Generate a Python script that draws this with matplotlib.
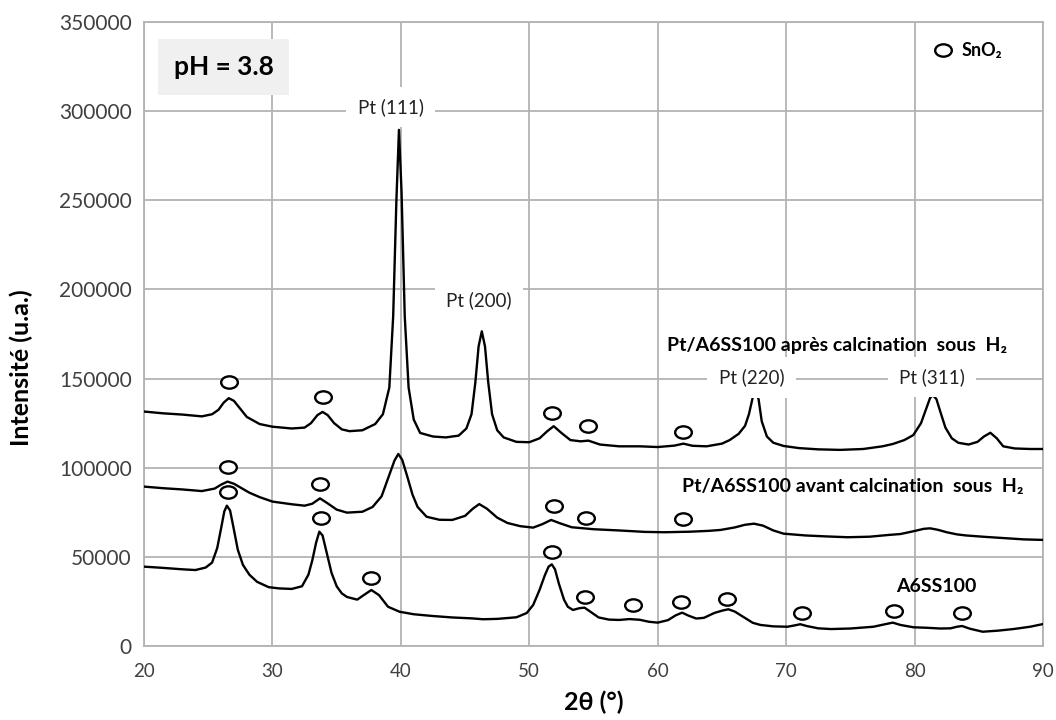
import matplotlib
matplotlib.use("Agg")
import matplotlib.pyplot as plt
import matplotlib.path as mpath
from matplotlib.transforms import Affine2D

plt.rcParams['font.family'] = ['Lato', 'DejaVu Sans']

# ---------------- data ----------------
top_x = [20.0, 21.5, 23.0, 24.5, 25.3, 25.8, 26.2, 26.6, 27.0, 27.5, 28.0, 29.0, 30.0, 31.5, 32.5,
         33.0, 33.5, 33.9, 34.3, 34.8, 35.4, 36.0, 37.0, 38.0, 38.6, 39.1, 39.4, 39.65, 39.85, 40.05,
         40.3, 40.6, 41.0, 41.5, 42.5, 43.5, 44.5, 45.1, 45.5, 45.8, 46.05, 46.3, 46.55, 46.8, 47.1,
         47.5, 48.0, 49.0, 50.0, 50.8, 51.4, 51.9, 52.5, 53.2, 54.0, 54.6, 55.5, 57.0, 58.6, 60.0,
         61.3, 62.0, 62.7, 63.8, 65.0, 65.6, 66.3, 66.8, 67.1, 67.4, 67.6, 67.85, 68.1, 68.5, 69.0,
         69.8, 71.0, 72.5, 74.2, 76.0, 77.5, 78.3, 79.2, 79.9, 80.5, 80.9, 81.2, 81.4, 81.7, 82.0,
         82.4, 82.9, 83.4, 84.2, 84.9, 85.4, 85.9, 86.4, 86.9, 87.8, 89.0, 90.0]
top_y = [131500, 130500, 129800, 128800, 130000, 132500, 136500, 139000, 137500, 133000, 128500,
         124500, 123000, 122000, 122500, 125000, 129500, 131300, 129500, 125000, 121500, 120500,
         121000, 124500, 130000, 145000, 185000, 250000, 289500, 255000, 185000, 145000, 127000,
         119500, 117500, 117000, 118000, 122000, 130000, 148000, 168000, 176500, 168000, 148000,
         130000, 121000, 117000, 114500, 114300, 116500, 120500, 123300, 119500, 115500, 114800,
         115200, 113000, 112000, 112000, 111600, 112400, 113500, 112300, 112000, 113500, 115500,
         119000, 123500, 130000, 139500, 143500, 138500, 126000, 117500, 114000, 112200, 111000,
         110300, 110000, 110500, 112000, 113300, 115500, 118300, 125000, 133000, 139000, 140800,
         138500, 131500, 122500, 116500, 114000, 113000, 114500, 117500, 119600, 116500, 112000,
         110800, 110500, 110500]

mid_x = [20.0, 21.5, 23.0, 24.5, 25.5, 26.0, 26.5, 27.0, 27.6, 28.2, 29.0, 30.0, 31.5, 32.5, 33.1,
         33.7, 34.3, 35.0, 35.8, 37.0, 37.8, 38.5, 39.1, 39.5, 39.8, 40.1, 40.5, 40.9, 41.3, 42.0,
         43.0, 44.0, 45.0, 45.6, 46.1, 46.7, 47.5, 48.3, 49.3, 50.3, 51.0, 51.7, 52.4, 53.3, 55.0,
         57.0, 59.0, 60.5, 62.5, 64.0, 64.9, 66.0, 66.8, 67.5, 68.2, 69.0, 69.8, 71.5, 73.0, 74.8,
         76.5, 78.0, 78.9, 80.0, 80.7, 81.2, 81.8, 82.5, 83.3, 84.0, 85.5, 87.0, 88.5, 90.0]
mid_y = [89400, 88500, 87800, 86900, 88300, 90500, 92200, 91000, 88500, 86000, 83500, 81000, 79500,
         78700, 79800, 82800, 80000, 76500, 74800, 75300, 78000, 84000, 96000, 104000, 107700,
         104500, 95000, 85000, 78000, 72500, 70800, 70700, 73000, 77000, 79600, 77000, 72000, 69000,
         67200, 66400, 68300, 70700, 68800, 66600, 65500, 64800, 64000, 63800, 64100, 64600, 65100,
         66500, 68000, 68600, 67500, 64800, 63000, 62000, 61500, 61000, 61300, 62300, 62800, 64500,
         65700, 66000, 65200, 63800, 62600, 62000, 61200, 60500, 59800, 59500]

bot_x = [20.0, 21.5, 23.0, 24.0, 24.8, 25.3, 25.7, 26.0, 26.25, 26.45, 26.7, 26.95, 27.3, 27.7, 28.2,
         28.8, 29.7, 30.5, 31.5, 32.3, 32.8, 33.1, 33.4, 33.65, 33.9, 34.2, 34.6, 35.0, 35.4, 35.8,
         36.6, 37.1, 37.7, 38.3, 39.0, 39.9, 41.0, 42.5, 44.0, 45.5, 46.4, 47.5, 49.0, 49.8, 50.3,
         50.8, 51.2, 51.5, 51.75, 52.0, 52.3, 52.7, 53.0, 53.4, 53.9, 54.3, 54.8, 55.4, 56.2, 57.0,
         57.8, 58.6, 59.3, 60.0, 60.8, 61.4, 61.9, 62.4, 63.0, 63.6, 64.4, 65.0, 65.5, 66.0, 66.6,
         67.4, 68.0, 69.0, 70.1, 70.7, 71.1, 71.6, 72.5, 73.5, 75.0, 76.8, 77.7, 78.3, 78.9, 79.9,
         81.0, 82.0, 82.8, 83.3, 83.7, 84.3, 85.3, 86.5, 87.7, 89.0, 90.0]
bot_y = [44500, 43800, 43000, 42600, 44000, 46800, 55000, 66000, 75500, 78700, 76000, 67000, 54000,
         45500, 40000, 36000, 33000, 32300, 32000, 33500, 40000, 48000, 58000, 64100, 62000, 53000,
         41000, 33500, 29500, 27500, 26000, 28500, 31400, 28500, 22000, 19200, 17800, 16800, 16000,
         15500, 15000, 15200, 16100, 18500, 23000, 31500, 39500, 44500, 45800, 43000, 35000, 26000,
         22000, 20200, 21200, 21500, 19000, 16000, 14800, 14600, 15100, 14700, 13600, 13100, 14500,
         17200, 18700, 17000, 15400, 15800, 18500, 19800, 20600, 19300, 16600, 13000, 11800, 11000,
         10800, 11600, 12200, 11200, 9900, 9500, 9800, 10800, 12200, 13100, 11800, 10500, 10200,
         9800, 9900, 10800, 11200, 9700, 8000, 8600, 9500, 10800, 12300]

# SnO2 markers
sno2_top_x = [26.6, 33.9, 51.8, 54.6, 62.0]
sno2_top_y = [148000, 139700, 130500, 123300, 119900]
sno2_mid_x = [26.5, 33.7, 51.9, 54.4, 62.0]
sno2_mid_y = [100200, 90700, 78500, 71800, 71300]
sno2_bot_x = [26.5, 33.8, 37.7, 51.8, 54.3, 58.1, 61.8, 65.4, 71.2, 78.4, 83.7]
sno2_bot_y = [86400, 71800, 38100, 52700, 27500, 23000, 24700, 26400, 18500, 19600, 18500]

pt_labels = ["Pt (111)", "Pt (200)", "Pt (220)", "Pt (311)"]
pt_label_x = [39.2, 46.1, 67.3, 81.35]
pt_label_y = [302500, 194000, 150500, 151000]

series_labels = ["Pt/A6SS100 après calcination  sous  H\u2082",
                 "Pt/A6SS100 avant calcination  sous  H\u2082",
                 "A6SS100"]
series_label_x = [60.7, 61.9, 78.6]
series_label_y = [168300, 89700, 33100]

x_ticks = [20, 30, 40, 50, 60, 70, 80, 90]
y_ticks = [0, 50000, 100000, 150000, 200000, 250000, 300000, 350000]

# ---------------- figure ----------------
fig = plt.figure(figsize=(10.56, 7.2), dpi=100)
ax = fig.add_axes([0.1364, 0.1028, 0.8513, 0.8666])

grid_c = '#b3b3b3'
ax.set_xlim(20, 90)
ax.set_ylim(0, 350000)
ax.set_xticks(x_ticks)
ax.set_yticks(y_ticks)
ax.set_yticklabels([str(v) for v in y_ticks])
ax.grid(True, color=grid_c, linewidth=1.3, zorder=0)
ax.set_axisbelow(True)
for s in ax.spines.values():
    s.set_color(grid_c)
    s.set_linewidth(1.3)
ax.tick_params(length=0, colors='#404040')
ax.tick_params(axis='x', labelsize=13.5, pad=12)
ax.tick_params(axis='y', labelsize=15, pad=9)

for xs, ys in [(top_x, top_y), (mid_x, mid_y), (bot_x, bot_y)]:
    ax.plot(xs, ys, color='black', linewidth=1.7, zorder=3, solid_joinstyle='round')

ell = mpath.Path.unit_circle().transformed(Affine2D().scale(1.35, 1.0))
for xs, ys in [(sno2_top_x, sno2_top_y), (sno2_mid_x, sno2_mid_y), (sno2_bot_x, sno2_bot_y)]:
    ax.plot(xs, ys, linestyle='none', marker=ell, markersize=12, markerfacecolor='white',
            markeredgecolor='black', markeredgewidth=1.7, zorder=4)

for t, x, y in zip(pt_labels, pt_label_x, pt_label_y):
    ax.text(x, y, t, ha='center', va='center', fontsize=13.5, color='#222222', zorder=5,
            bbox=dict(boxstyle='square,pad=0.6', facecolor='white', edgecolor='none'))

for t, x, y in zip(series_labels, series_label_x, series_label_y):
    ax.text(x, y, t, ha='left', va='center', fontsize=14, fontweight='bold',
            color='black', zorder=5)

# pH box
ax.text(0.033, 0.928, "pH = 3.8", transform=ax.transAxes, ha='left', va='center',
        fontsize=19, fontweight='bold', color='black', zorder=5,
        bbox=dict(boxstyle='square,pad=0.6', facecolor='#f0f0f0', edgecolor='none'))

# SnO2 legend
ax.plot([0.889], [0.955], transform=ax.transAxes, linestyle='none', marker=ell, markersize=12,
        markerfacecolor='white', markeredgecolor='black', markeredgewidth=1.7, zorder=5,
        clip_on=False)
ax.text(0.909, 0.955, "SnO\u2082", transform=ax.transAxes, ha='left', va='center',
        fontsize=13, fontweight='bold', color='black', zorder=5)

ax.set_xlabel("2θ (°)", fontsize=18, fontweight='bold', labelpad=8)
ax.set_ylabel("Intensité (u.a.)", fontsize=18, fontweight='bold')
ax.yaxis.set_label_coords(-0.1235, 0.446)

fig.savefig("out.png", dpi=100)
